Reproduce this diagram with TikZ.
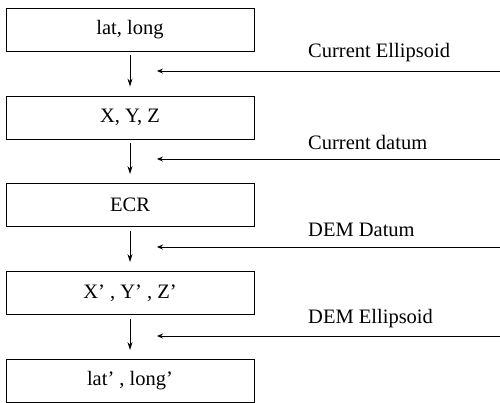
\documentclass[tikz,border=0pt]{standalone}
\usepackage{fontspec}
\setmainfont{Liberation Serif}
\usetikzlibrary{arrows.meta}
\begin{document}
\begin{tikzpicture}[x=1pt,y=-1pt,
  box/.style={draw,line width=0.9pt,minimum width=248pt,minimum height=43pt,inner sep=0pt,font=\fontsize{20.5}{22}\selectfont},
  lbl/.style={anchor=west,inner sep=0pt,font=\fontsize{20.5}{22}\selectfont},
  flow/.style={line width=0.9pt,-{Stealth[length=8pt,width=5pt]}},
  feed/.style={line width=0.9pt,-{Stealth[length=6pt,width=5pt]}}]
\useasboundingbox (0,0) rectangle (500,402);
\node[box] (b1) at (130,29.5) {lat, long};
\node[box] (b2) at (130,117.5) {X, Y, Z};
\node[box] (b3) at (130,205) {ECR};
\node[box] (b4) at (130,293) {X’ , Y’ , Z’};
\node[box] (b5) at (130,381) {lat’ , long’};
\draw[flow,shorten <=4pt,shorten >=9pt] (b1) -- (b2);
\draw[flow,shorten <=4pt,shorten >=9pt] (b2) -- (b3);
\draw[flow,shorten <=4pt,shorten >=9pt] (b3) -- (b4);
\draw[flow,shorten <=4pt,shorten >=9pt] (b4) -- (b5);
\coordinate (s1) at (500,71);  \coordinate (t1) at (157,71);
\coordinate (s2) at (500,159); \coordinate (t2) at (157,159);
\coordinate (s3) at (500,247); \coordinate (t3) at (157,247);
\coordinate (s4) at (500,336); \coordinate (t4) at (157,336);
\draw[feed] (s1) -- (t1);
\draw[feed] (s2) -- (t2);
\draw[feed] (s3) -- (t3);
\draw[feed] (s4) -- (t4);
\node[lbl] (l1) at (308,53) {Current Ellipsoid};
\node[lbl] (l2) at (308,142) {Current datum};
\node[lbl] (l3) at (308,230) {DEM Datum};
\node[lbl] (l4) at (308,319) {DEM Ellipsoid};
\end{tikzpicture}
\end{document}
